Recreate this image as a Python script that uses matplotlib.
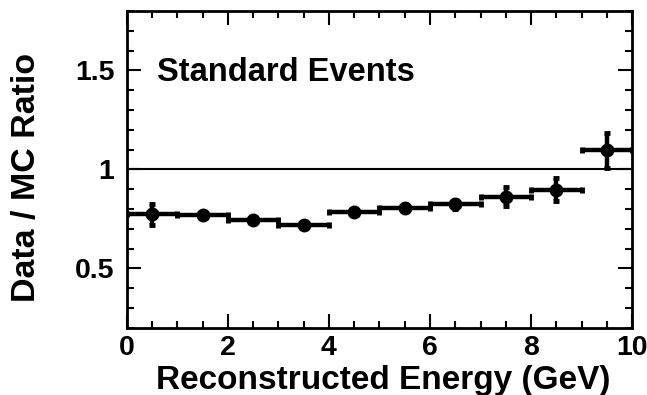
import matplotlib
matplotlib.use("Agg")
import matplotlib.pyplot as plt
from matplotlib.ticker import MultipleLocator, FixedLocator, FixedFormatter

plt.rcParams['font.family'] = ['Liberation Sans', 'DejaVu Sans']
plt.rcParams['font.weight'] = 'bold'

# Bin centres (GeV), half-widths, ratio values and statistical errors
energy = [0.5, 1.5, 2.5, 3.5, 4.5, 5.5, 6.5, 7.5, 8.5, 9.5]
half_width = [0.5] * 10
ratio = [0.773, 0.768, 0.745, 0.718, 0.785, 0.807, 0.824, 0.861, 0.898, 1.096]
ratio_err = [0.053, 0.012, 0.015, 0.015, 0.015, 0.018, 0.022, 0.048, 0.059, 0.088]

y_ticks = [0.5, 1.0, 1.5]
y_tick_labels = ['0.5', '1', '1.5']
x_ticks = [0, 2, 4, 6, 8, 10]

fig = plt.figure(figsize=(6.47, 3.95), dpi=100)
ax = fig.add_axes([0.196, 0.170, 0.781, 0.802])

ax.axhline(1.0, color='black', lw=1.5, zorder=1)
ax.errorbar(energy, ratio, xerr=half_width, yerr=ratio_err, fmt='o',
            color='black', ms=9, elinewidth=3.2, capsize=2.5, capthick=3.5,
            zorder=3)

ax.set_xlim(0, 10)
ax.set_ylim(0.2, 1.8)

ax.xaxis.set_major_locator(FixedLocator(x_ticks))
ax.xaxis.set_minor_locator(MultipleLocator(0.5))
ax.yaxis.set_major_locator(FixedLocator(y_ticks))
ax.yaxis.set_major_formatter(FixedFormatter(y_tick_labels))
ax.yaxis.set_minor_locator(MultipleLocator(0.1))

ax.tick_params(which='both', direction='in', top=True, right=True,
               width=1.5, labelsize=20.5)
ax.tick_params(which='major', length=10)
ax.tick_params(which='minor', length=5)
ax.tick_params(axis='x', pad=5)
ax.tick_params(axis='y', pad=9)
for lab in ax.get_xticklabels() + ax.get_yticklabels():
    lab.set_fontweight('bold')

for sp in ax.spines.values():
    sp.set_linewidth(2)

ax.set_xlabel('Reconstructed Energy (GeV)', fontsize=24, fontweight='bold')
ax.set_ylabel('Data / MC Ratio', fontsize=24.5, fontweight='bold')
ax.yaxis.set_label_coords(-0.168, 0.475)
ax.xaxis.set_label_coords(0.508, -0.118)

ax.text(0.59, 1.49, 'Standard Events', fontsize=23.5, fontweight='bold',
        va='center', ha='left')

fig.savefig('out.png', dpi=100)
